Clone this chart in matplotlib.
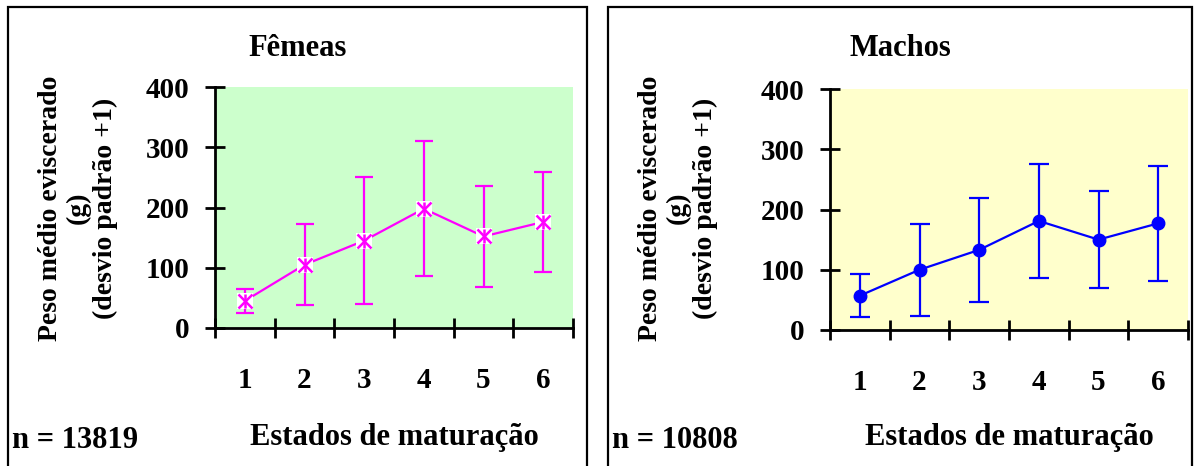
import matplotlib
matplotlib.use("Agg")
import matplotlib.pyplot as plt
from matplotlib.patches import Rectangle

# Data
estados = [1, 2, 3, 4, 5, 6]
femeas_media = [45, 105, 145, 198, 152, 176]
femeas_dp = [20, 67, 105, 112, 84, 83]
machos_media = [57, 100, 133, 181, 150, 177]
machos_dp = [36, 76, 86, 94, 80, 96]
n_femeas = 13819
n_machos = 10808

plt.rcParams['font.family'] = ['Liberation Serif', 'DejaVu Serif']
plt.rcParams['font.weight'] = 'bold'
FS_TICK = 21
FS_TEXT = 22
FS_YLAB = 20

W, H = 1196, 466
fig = plt.figure(figsize=(W / 100, H / 100), dpi=100)


def px(x0, y0, w, h):
    # pixel box (top-left origin) -> figure fraction
    return [x0 / W, (H - y0 - h) / H, w / W, h / H]


def style_axes(ax, bg):
    ax.set_facecolor(bg)
    ax.set_xlim(0.5, 6.5)
    ax.set_ylim(0, 400)
    for s in ['top', 'right']:
        ax.spines[s].set_visible(False)
    for s in ['left', 'bottom']:
        ax.spines[s].set_linewidth(2)
    ax.set_yticks([0, 100, 200, 300, 400])
    ax.tick_params(axis='y', direction='inout', length=14.4, width=2,
                   pad=11, labelsize=FS_TICK)
    ax.set_xticks(estados)
    ax.set_xticks([i + 0.5 for i in range(7)], minor=True)
    ax.tick_params(axis='x', which='major', length=0, pad=28,
                   labelsize=FS_TICK)
    ax.tick_params(axis='x', which='minor', direction='inout', length=14.4,
                   width=2)
    for lab in ax.get_xticklabels() + ax.get_yticklabels():
        lab.set_fontweight('bold')


def panel(box_x0, box_x1, ax, title, n):
    rect = Rectangle((box_x0 / W, -0.02), (box_x1 - box_x0) / W,
                     (H - 7) / H + 0.02, transform=fig.transFigure,
                     fill=False, edgecolor='black', linewidth=1.6,
                     clip_on=False)
    fig.patches.append(rect)
    fig.text((box_x0 + box_x1) / 2 / W, (H - 49) / H, title,
             ha='center', va='center', fontsize=FS_TEXT, fontweight='bold')
    fig.text((box_x0 + 4) / W, (H - 440) / H, f'n = {n}',
             ha='left', va='center', fontsize=FS_TEXT, fontweight='bold')
    pos = ax.get_position()
    fig.text(pos.x0 + pos.width / 2, (H - 437) / H, 'Estados de maturação',
             ha='center', va='center', fontsize=FS_TEXT, fontweight='bold')
    fig.text((box_x0 + 70) / W, (H - 208) / H,
             'Peso médio eviscerado\n(g)\n(desvio padrão +1)',
             ha='center', va='center', rotation=90, multialignment='center',
             fontsize=FS_YLAB, fontweight='bold', linespacing=1.12)


# Fêmeas
ax1 = fig.add_axes(px(215, 87, 358, 241))
style_axes(ax1, '#CCFFCC')
ax1.errorbar(estados, femeas_media, yerr=femeas_dp, color='#FF00FF',
             linewidth=1.6, elinewidth=1.6, capsize=6.5, capthick=1.6,
             zorder=3)
ax1.plot(estados, femeas_media, linestyle='none', marker='s',
         markersize=12, markerfacecolor='white', markeredgewidth=0,
         zorder=4)
ax1.plot(estados, femeas_media, linestyle='none', marker='x',
         markersize=10, markeredgewidth=1.8, color='#FF00FF', zorder=5)
ax1.plot(estados, femeas_media, linestyle='none', marker='|',
         markersize=10, markeredgewidth=1.8, color='#FF00FF', zorder=5)
panel(8, 587, ax1, 'Fêmeas', n_femeas)

# Machos
ax2 = fig.add_axes(px(830, 89, 358, 241))
style_axes(ax2, '#FFFFCC')
ax2.errorbar(estados, machos_media, yerr=machos_dp, color='#0000FF',
             linewidth=1.6, elinewidth=1.6, capsize=7, capthick=1.6,
             marker='o', markersize=9, zorder=3)
panel(608, 1192, ax2, 'Machos', n_machos)

fig.savefig('out.png', dpi=100)
